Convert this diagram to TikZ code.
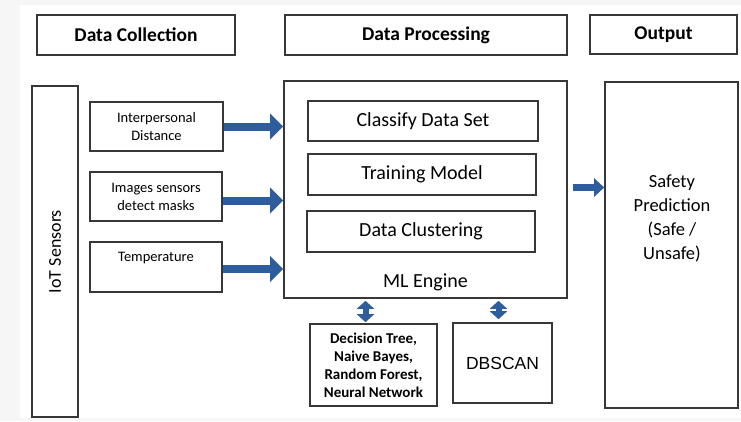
\documentclass[tikz,border=0pt]{standalone}
\usepackage{fontspec}
\setmainfont{Carlito}
\newfontfamily\arialfont{Liberation Sans}
\usetikzlibrary{arrows.meta,positioning,calc}

\definecolor{arrowblue}{RGB}{46,93,158}
\definecolor{boxline}{RGB}{55,55,55}

\tikzset{
  box/.style={draw=boxline, line width=1.6pt, fill=white, inner sep=2pt, align=center},
  headbox/.style={box, font=\fontsize{19.5}{22}\selectfont\bfseries},
  smallbox/.style={box, font=\fontsize{14.5}{18}\selectfont},
  stagebox/.style={box, font=\fontsize{20}{23}\selectfont},
  blockarrow/.style={arrowblue, line width=8pt, -{Triangle[length=13pt,width=25pt]}},
  outarrow/.style={arrowblue, line width=7pt, -{Triangle[length=10pt,width=18pt]}},
  dblarrow/.style={arrowblue, line width=6pt,
    {Triangle[length=8pt,width=17pt]}-{Triangle[length=8pt,width=17pt]}}
}

\begin{document}
\begin{tikzpicture}[x=1pt,y=-1pt]
    % Background
    \fill[gray!7] (0,0) rectangle (741,421);
    \fill[white] (20,5) rectangle (741,418);
    \useasboundingbox (0,0) rectangle (741,421);

    % Stage headers
    \node[headbox, minimum width=198pt, minimum height=40pt] (hcol) at (136,35) {Data Collection};
    \node[headbox, minimum width=282pt, minimum height=40pt] (hproc) at (426,35) {Data Processing};
    \node[headbox, minimum width=147pt, minimum height=39pt] (hout) at (663.5,34.5) {Output};

    % Data collection
    \node[box, rotate=90, minimum width=331pt, minimum height=46pt,
          font=\fontsize{18}{21}\selectfont] (iot) at (55,251.5) {IoT Sensors};
    \node[smallbox, minimum width=133pt, minimum height=49pt] (dist) at (156.5,126.5) {Interpersonal\\Distance};
    \node[smallbox, minimum width=132pt, minimum height=49pt] (img) at (156,196.5) {Images sensors\\detect masks};
    \node[smallbox, minimum width=132pt, minimum height=50pt] (temp) at (156,267) {};
    \node[font=\fontsize{14.5}{18}\selectfont] (temptxt) at (156,258) {Temperature};

    % Data processing (ML engine)
    \node[box, minimum width=283pt, minimum height=217pt] (ml) at (425.5,189.5) {};
    \node[stagebox, minimum width=230pt, minimum height=40pt] (cls) at (423,121) {Classify Data Set};
    \node[stagebox, minimum width=228pt, minimum height=41pt] (trn) at (422,174.5) {Training Model};
    \node[stagebox, minimum width=228pt, minimum height=41pt] (clu) at (421,231.5) {Data Clustering};
    \node[font=\fontsize{20}{23}\selectfont] (mltxt) at (425.5,282) {ML Engine};

    % Algorithms below the engine
    \node[box, minimum width=127pt, minimum height=82pt,
          font=\fontsize{15}{18}\selectfont\bfseries] (algo) at (373.5,365)
          {Decision Tree,\\Naive Bayes,\\Random Forest,\\Neural Network};
    \node[box, minimum width=99pt, minimum height=80pt,
          font=\arialfont\fontsize{17.5}{20}\selectfont] (dbs) at (502.5,363) {DBSCAN};

    % Output
    \node[box, minimum width=133pt, minimum height=326pt] (out) at (671.5,245) {};
    \node[font=\fontsize{18.5}{24}\selectfont, align=center] (outtxt) at (672,218)
          {Safety\\Prediction\\(Safe /\\Unsafe)};

    % Arrows
    \draw[blockarrow] (dist.east) -- (dist.east -| ml.west);
    \draw[blockarrow] ([yshift=-4pt]img.east) -- ([yshift=-4pt]img.east -| ml.west);
    \draw[blockarrow] ([yshift=-2pt]temp.east) -- ([yshift=-2pt]temp.east -| ml.west);
    \draw[outarrow, shorten <=5pt] ([yshift=2pt]ml.east) -- ([yshift=2pt]ml.east -| out.west);
    \draw[dblarrow, shorten <=1pt, shorten >=2pt] ([xshift=-8pt]algo.north) -- ([xshift=-8pt]algo.north |- ml.south);
    \draw[dblarrow, shorten <=3pt, shorten >=2pt] ([xshift=-4pt]dbs.north) -- ([xshift=-4pt]dbs.north |- ml.south);
\end{tikzpicture}
\end{document}
